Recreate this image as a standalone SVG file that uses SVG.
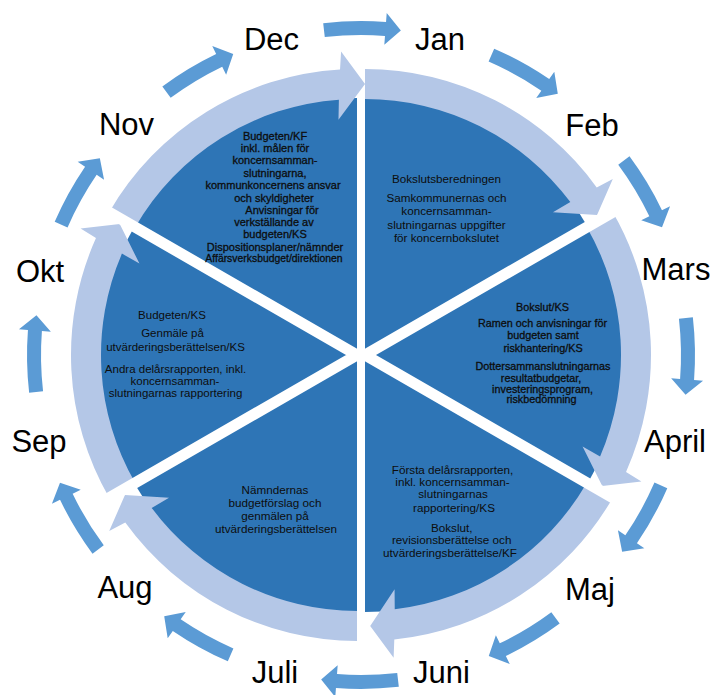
<svg xmlns="http://www.w3.org/2000/svg" width="711" height="695" viewBox="0 0 711 695">
<style>
.wedge{fill:#2E75B6}
.band{fill:#B4C7E7}
.oarrow{fill:#5B9BD5}
.month{font-family:"Liberation Sans",Arial,sans-serif;font-size:31px;fill:#000;text-anchor:middle}
.st{font-family:"Liberation Sans",Arial,sans-serif;fill:#0D0D0D;text-anchor:middle}
.bold{stroke:#0D0D0D;stroke-width:0.3}
</style>
<defs>
<path id="wedge" d="M0 0 L-222.57 -128.5 A257 257 0 0 1 0 -257 Z"/>
<path id="band" d="M-247.68 -143 A286 286 0 0 1 -29.30 -284.50 L-28.61 -302.65 L-5.20 -270.95 L-29.58 -234.14 L-29.74 -254.27 A256 256 0 0 0 -221.70 -128 Z"/>
<path id="oa" d="M-37.81 -331.85 A334 334 0 0 1 25.04 -333.06 L25.72 -342.04 L39.85 -324.56 L23.32 -310.13 L23.99 -319.10 A320 320 0 0 0 -36.22 -317.94 Z"/>
<mask id="gaps" maskUnits="userSpaceOnUse" x="0" y="0" width="711" height="695">
<rect x="0" y="0" width="711" height="695" fill="#fff"/>
<path d="M357 355 L88 200 M357 355 L88 510 M365 355 L634 200 M365 355 L634 510" stroke="#000" stroke-width="11" fill="none"/>
</mask>
</defs>

<g id="sector-nov-dec">
<g mask="url(#gaps)">
<use href="#wedge" class="wedge" transform="translate(357 355)"/>
<path class="band" transform="translate(357 355)" d="M-247.68 -143 A286 286 0 0 1 -16.96 -285.50 L-15.91 -303.58 L8.04 -270.88 L-18.52 -235.27 L-18.12 -255.36 A256 256 0 0 0 -221.70 -128 Z"/>
</g>
<g class="st bold" font-size="11">
<text x="275" y="140">Budgeten/KF</text>
<text x="275" y="152">inkl. målen för</text>
<text x="275" y="164.3">koncernsamman-</text>
<text x="275" y="176.7">slutningarna,</text>
<text x="273" y="189">kommunkoncernens ansvar</text>
<text x="274" y="201.5">och skyldigheter</text>
<text x="282" y="214">Anvisningar för</text>
<text x="274" y="226">verkställande av</text>
<text x="275" y="238">budgeten/KS</text>
<text x="275" y="250.5">Dispositionsplaner/nämnder</text>
<text x="274" y="262" font-size="10.4">Affärsverksbudget/direktionen</text>
</g>
</g>

<g id="sector-jan-feb">
<g mask="url(#gaps)">
<use href="#wedge" class="wedge" transform="translate(365 355) rotate(60)"/>
<use href="#band" class="band" transform="translate(365 355) rotate(60)"/>
</g>
<g class="st" font-size="11.7">
<text x="446.5" y="182.7">Bokslutsberedningen</text>
<text x="446.5" y="201.7">Samkommunernas och</text>
<text x="446.5" y="215">koncernsamman-</text>
<text x="446.5" y="228.7">slutningarnas uppgifter</text>
<text x="446.5" y="241.7">för koncernbokslutet</text>
</g>
</g>

<g id="sector-mars-april">
<g mask="url(#gaps)">
<use href="#wedge" class="wedge" transform="translate(365 355) rotate(120)"/>
<use href="#band" class="band" transform="translate(365 355) rotate(120)"/>
</g>
<g class="st bold" font-size="10.8">
<text x="542.5" y="310.7">Bokslut/KS</text>
<text x="542.5" y="326.7">Ramen och anvisningar för</text>
<text x="543" y="339.3">budgeten samt</text>
<text x="543" y="352.3">riskhantering/KS</text>
<text x="543" y="370">Dottersammanslutningarnas</text>
<text x="541" y="381.7">resultatbudgetar,</text>
<text x="542.5" y="392.7">investeringsprogram,</text>
<text x="541.5" y="403.3">riskbedömning</text>
</g>
</g>

<g id="sector-maj-juni">
<g mask="url(#gaps)">
<use href="#wedge" class="wedge" transform="translate(365 355) rotate(180)"/>
<use href="#band" class="band" transform="translate(365 355) rotate(180)"/>
</g>
<g class="st" font-size="11.7">
<text x="452.5" y="474">Första delårsrapporten,</text>
<text x="452.5" y="486">inkl. koncernsamman-</text>
<text x="453" y="498.3">slutningarnas</text>
<text x="454" y="511.7">rapportering/KS</text>
<text x="451.7" y="531.7">Bokslut,</text>
<text x="451.7" y="544.3">revisionsberättelse och</text>
<text x="450" y="557">utvärderingsberättelse/KF</text>
</g>
</g>

<g id="sector-juli-aug">
<g mask="url(#gaps)">
<use href="#wedge" class="wedge" transform="translate(357 355) rotate(-120)"/>
<use href="#band" class="band" transform="translate(357 355) rotate(-120)"/>
</g>
<g class="st" font-size="11.7">
<text x="275" y="494">Nämndernas</text>
<text x="275" y="506.7">budgetförslag och</text>
<text x="275" y="520">genmälen på</text>
<text x="276" y="533.3">utvärderingsberättelsen</text>
</g>
</g>

<g id="sector-sep-okt">
<g mask="url(#gaps)">
<use href="#wedge" class="wedge" transform="translate(357 355) rotate(-60)"/>
<use href="#band" class="band" transform="translate(357 355) rotate(-60)"/>
</g>
<g class="st" font-size="11.5">
<text x="172" y="319.3">Budgeten/KS</text>
<text x="172.5" y="337.3">Genmäle på</text>
<text x="175.5" y="350.7">utvärderingsberättelsen/KS</text>
<text x="175.5" y="372.7">Andra delårsrapporten, inkl.</text>
<text x="175" y="385">koncernsamman-</text>
<text x="175.5" y="397.3">slutningarnas rapportering</text>
</g>
</g>

<g id="connectors" class="oarrow">
<use href="#oa" transform="translate(361 355) rotate(0)"/>
<use href="#oa" transform="translate(361 355) rotate(30)"/>
<use href="#oa" transform="translate(361 355) rotate(60)"/>
<use href="#oa" transform="translate(361 355) rotate(90)"/>
<use href="#oa" transform="translate(361 355) rotate(120)"/>
<use href="#oa" transform="translate(361 355) rotate(150)"/>
<use href="#oa" transform="translate(361 355) rotate(180)"/>
<use href="#oa" transform="translate(361 355) rotate(210)"/>
<use href="#oa" transform="translate(361 355) rotate(240)"/>
<use href="#oa" transform="translate(361 355) rotate(270)"/>
<use href="#oa" transform="translate(361 355) rotate(300)"/>
<use href="#oa" transform="translate(361 355) rotate(330)"/>
</g>

<g id="month-dec"><text class="month" x="271.5" y="50">Dec</text></g>
<g id="month-jan"><text class="month" x="440" y="50">Jan</text></g>
<g id="month-feb"><text class="month" x="592" y="136">Feb</text></g>
<g id="month-mars"><text class="month" x="676" y="280">Mars</text></g>
<g id="month-april"><text class="month" x="675" y="452">April</text></g>
<g id="month-maj"><text class="month" x="590" y="600">Maj</text></g>
<g id="month-juni"><text class="month" x="441.5" y="683">Juni</text></g>
<g id="month-juli"><text class="month" x="275" y="683">Juli</text></g>
<g id="month-aug"><text class="month" x="125" y="598">Aug</text></g>
<g id="month-sep"><text class="month" x="39" y="452">Sep</text></g>
<g id="month-okt"><text class="month" x="40" y="282">Okt</text></g>
<g id="month-nov"><text class="month" x="126.5" y="135">Nov</text></g>
</svg>
